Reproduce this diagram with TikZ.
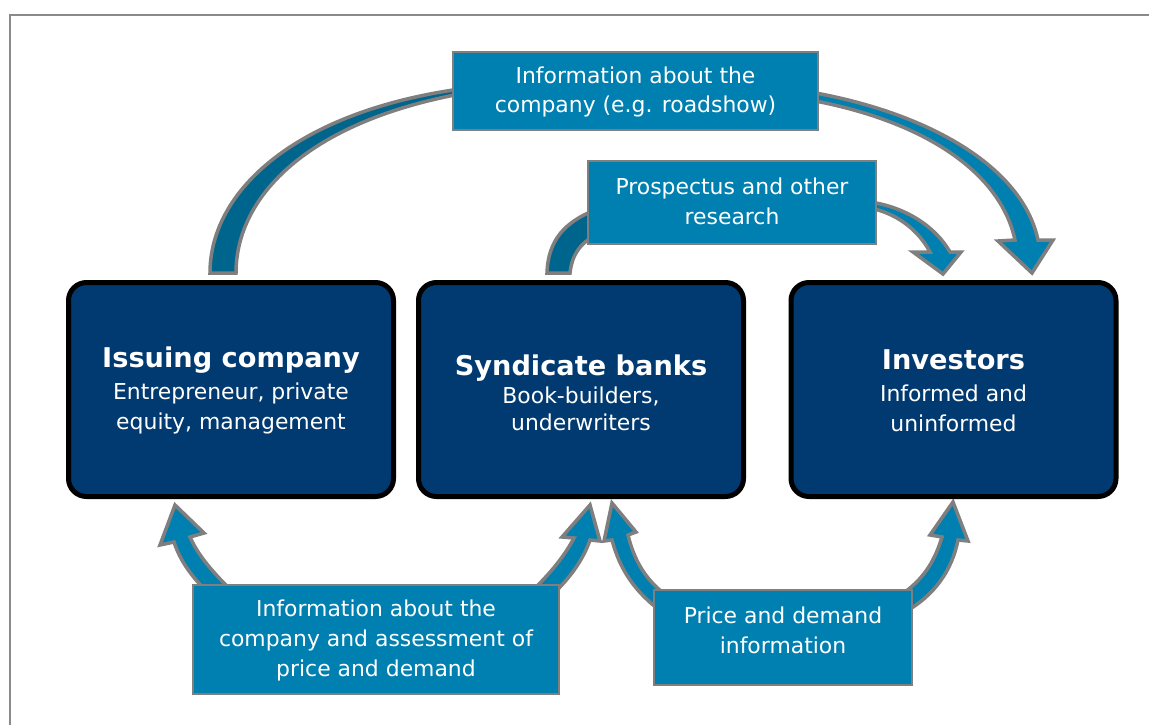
\documentclass[tikz,border=0pt]{standalone}
\usepackage{fontspec}
\setmainfont{DejaVu Sans}
\definecolor{navy}{HTML}{003A70}
\definecolor{lblue}{HTML}{0080B0}
\definecolor{dblue}{HTML}{00658C}
\definecolor{outl}{HTML}{7F7F7F}
\definecolor{frame}{HTML}{8A8A8A}
\begin{document}
\begin{tikzpicture}[x=1pt,y=-1pt,
  party/.style={draw=black,line width=5pt,fill=navy,rounded corners=18pt,minimum width=325pt,minimum height=214pt,inner sep=0pt},
  ptext/.style={text=white,align=center,font=\fontsize{21.9}{30}\selectfont,inner sep=0pt},
  lbl/.style={draw=outl,line width=1.8pt,fill=lblue,inner sep=0pt},
  band/.style={fill=lblue,draw=outl,line width=3.5pt,line join=miter},
  dband/.style={band,fill=dblue}]
\useasboundingbox (0,0) rectangle (1149,724);
\fill[white] (0,0) rectangle (1149,724);
\draw[frame,line width=2.5pt] (10,760) -- (10,15) -- (1170,15);

% arrows
\draw[dband] (210,273) .. controls (210,190) and (297,112) .. (460,89) -- (460,94) .. controls (310,122) and (236,195) .. (236,273) -- cycle;
\draw[band] (810,92) .. controls (925,112) and (1022,165) .. (1038,240) -- (1053,240) -- (1032,273) -- (998,241) -- (1015,240) .. controls (1000,170) and (920,120) .. (810,100) -- cycle;
\draw[dband] (547,273) .. controls (548,240) and (565,222) .. (595,210) -- (595,236) .. controls (580,243) and (572,255) .. (570,273) -- cycle;
\draw[band] (870,202) .. controls (905,207) and (935,226) .. (950,252) -- (961,252) -- (943,274) -- (913,252) -- (930,252) .. controls (920,233) and (900,214) .. (870,208) -- cycle;
\draw[band] (210,595) .. controls (190,575) and (180,560) .. (174,542) -- (160,545) -- (175,505) -- (204,533) -- (190,537) .. controls (198,555) and (212,572) .. (236,595) -- cycle;
\draw[band] (528,595) .. controls (552,572) and (565,555) .. (574,538) -- (562,537) -- (590,505) -- (600,541) -- (590,540) .. controls (583,560) and (570,578) .. (552,595) -- cycle;
\draw[band] (662,592) .. controls (645,578) and (634,560) .. (628,535) -- (636,532) -- (612,503) -- (604,541) -- (612,540) .. controls (620,570) and (635,592) .. (662,612) -- cycle;
\draw[band] (905,592) .. controls (925,577) and (935,560) .. (942,537) -- (930,535) -- (953,502) -- (968,541) -- (958,540) .. controls (952,570) and (935,595) .. (905,612) -- cycle;

% parties
\node[party] (issuer) at (231,389.5) {};
\node[party] (synd) at (581,389.5) {};
\node[party] (inv) at (953.5,389.5) {};
\node[ptext] (issuertxt) at (231,390.5) {{\fontsize{27.2}{30}\selectfont\bfseries Issuing company}\\[2pt]Entrepreneur, private\\equity, management};
\node[ptext,font=\fontsize{21.9}{27}\selectfont] (synctxt) at (581,392.5) {{\fontsize{27.2}{30}\selectfont\bfseries Syndicate banks}\\[1pt]Book-builders,\\underwriters};
\node[ptext] (invtxt) at (953.5,390.5) {{\fontsize{27.2}{30}\selectfont\bfseries Investors}\\[2pt]Informed and\\uninformed};

% labels
\node[lbl,minimum width=365pt,minimum height=78pt] (ltop) at (635.5,91) {};
\node[ptext,font=\fontsize{21.9}{29.5}\selectfont] (ltoptxt) at (635.5,92) {Information about the\\company (e.g. roadshow)};
\node[lbl,minimum width=288pt,minimum height=83pt] (lpro) at (732,202.5) {};
\node[ptext,font=\fontsize{21.9}{29.5}\selectfont] (lprotxt) at (732,201.5) {Prospectus and other\\research};
\node[lbl,minimum width=366pt,minimum height=109pt] (lbl1) at (376,639.5) {};
\node[ptext,font=\fontsize{21.9}{30}\selectfont] (lbl1txt) at (376,640) {Information about the\\company and assessment of\\price and demand};
\node[lbl,minimum width=258pt,minimum height=95pt] (lbl2) at (783,637.5) {};
\node[ptext,font=\fontsize{21.9}{30}\selectfont] (lbl2txt) at (783,630.5) {Price and demand\\information};
\end{tikzpicture}
\end{document}
